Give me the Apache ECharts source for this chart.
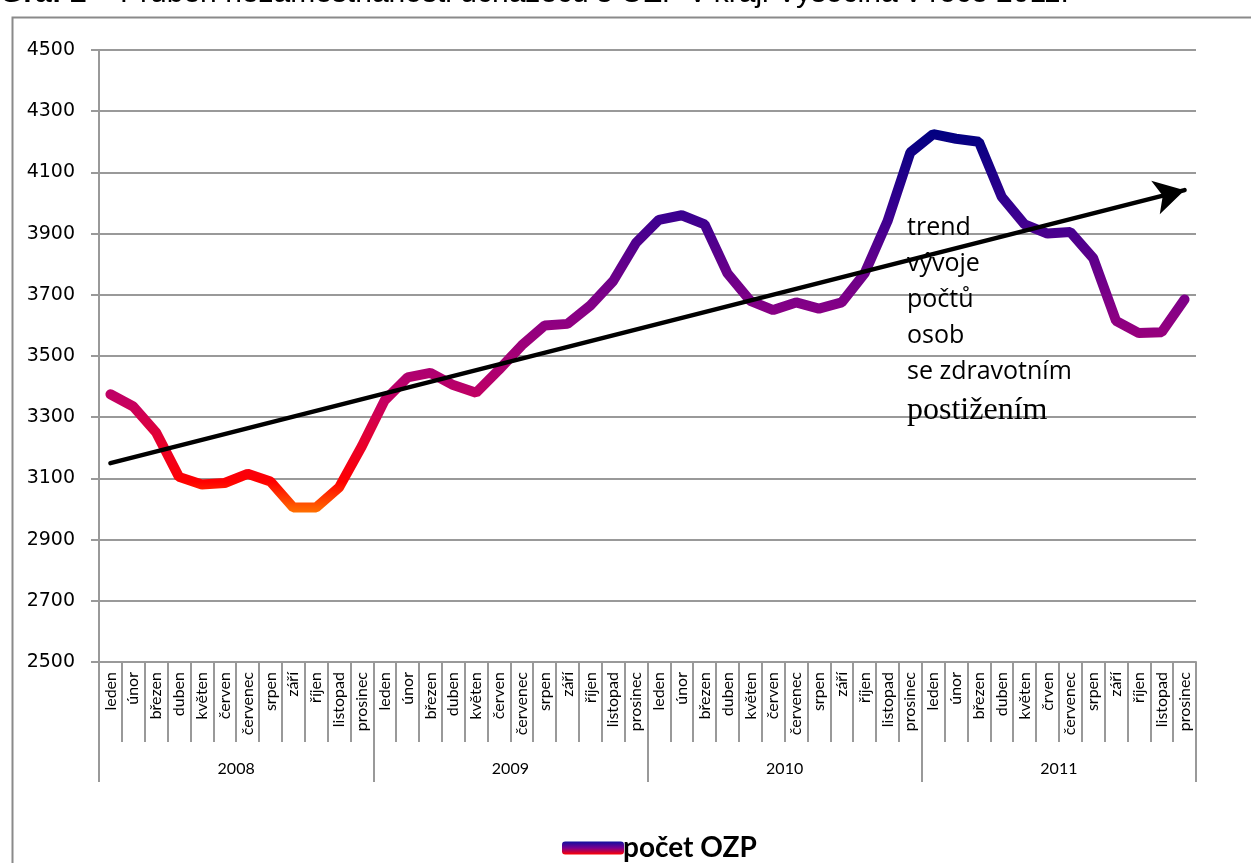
<!DOCTYPE html>
<html>
<head>
<meta charset="utf-8">
<style>html,body{margin:0;padding:0;background:#fff;}#c{width:1251px;height:863px;}</style>
<script src="https://cdn.jsdelivr.net/npm/echarts@6/dist/echarts.min.js"></script>
</head>
<body>
<div id="c"></div>
<script>
const months = ['leden','únor','březen','duben','květen','červen','červenec','srpen','září','říjen','listopad','prosinec'];
const months2011 = ['leden','únor','březen','duben','květen','črven','červenec','srpen','září','říjen','listopad','prosinec'];
const years = ['2008','2009','2010','2011'];
const yTicks = {min: 2500, max: 4500, step: 200};
const values2008 = [3375, 3335, 3250, 3105, 3080, 3085, 3115, 3090, 3005, 3005, 3070, 3205];
const values2009 = [3355, 3430, 3445, 3405, 3380, 3455, 3535, 3600, 3605, 3665, 3745, 3870];
const values2010 = [3945, 3960, 3930, 3770, 3680, 3650, 3675, 3655, 3675, 3770, 3940, 4165];
const values2011 = [4225, 4210, 4200, 4020, 3930, 3900, 3905, 3820, 3615, 3575, 3578, 3685];
const trendStart = [0, 3150];
const trendEnd = [47, 4042];
const seriesName = 'počet OZP';
const trendText = ['trend', 'vývoje', 'počtů', 'osob', 'se zdravotním'];
const trendTextLast = 'postižením';
const titleBold = 'Graf 2';
const titleRest = ' – Průběh nezaměstnanosti uchazečů s OZP v kraji Vysočina v roce 2011.';

const categories = [].concat(months, months, months, months2011);
const values = [].concat(values2008, values2009, values2010, values2011);

const lineGrad = new echarts.graphic.LinearGradient(0, 0, 0, 1, [
  {offset: 0, color: '#000080'},
  {offset: 0.22, color: '#3a0090'},
  {offset: 0.47, color: '#860086'},
  {offset: 0.64, color: '#b0006f'},
  {offset: 0.72, color: '#c8005e'},
  {offset: 0.82, color: '#e8002c'},
  {offset: 0.92, color: '#ff0000'},
  {offset: 1, color: '#ff7000'}
]);
const legendGrad = new echarts.graphic.LinearGradient(0, 0, 0, 1, [
  {offset: 0, color: '#1010a0'},
  {offset: 0.5, color: '#7a0090'},
  {offset: 1, color: '#ff0000'}
]);

const chart = echarts.init(document.getElementById('c'), null, {renderer: 'canvas'});
const gridColor = '#999999';
chart.setOption({
  backgroundColor: '#ffffff',
  animation: false,
  grid: {left: 99, right: 55, top: 50, bottom: 201, containLabel: false},
  legend: {
    left: 557, top: 829,
    itemWidth: 62, itemHeight: 13, itemGap: 10,
    icon: 'roundRect',
    textStyle: {fontFamily: 'Lato', fontWeight: 'bold', fontSize: 28, color: '#000', padding: [0,0,0,-6]},
    data: [{name: seriesName, itemStyle: {color: legendGrad}}]
  },
  xAxis: [{
    type: 'category',
    data: categories,
    boundaryGap: true,
    position: 'bottom',
    axisLine: {show: true, lineStyle: {color: gridColor, width: 2}},
    axisTick: {show: true, interval: 0, length: 80, lineStyle: {color: gridColor, width: 2}},
    axisLabel: {interval: 0, rotate: 90, margin: 10, fontFamily: 'Lato', fontSize: 16, color: '#000'},
    splitLine: {show: false}
  }, {
    type: 'category',
    data: years,
    boundaryGap: true,
    position: 'bottom',
    axisLine: {show: false},
    axisTick: {show: true, interval: 0, length: 120, lineStyle: {color: gridColor, width: 2}},
    axisLabel: {interval: 0, margin: 99, fontFamily: 'Lato', fontSize: 16, color: '#000'},
    splitLine: {show: false}
  }],
  yAxis: {
    type: 'value',
    min: yTicks.min, max: yTicks.max, interval: yTicks.step,
    axisLine: {show: true, lineStyle: {color: gridColor, width: 2}},
    axisTick: {show: true, length: 8, lineStyle: {color: gridColor, width: 2}},
    axisLabel: {fontFamily: 'DejaVu Sans', fontSize: 19, color: '#000', margin: 24, formatter: v => String(v)},
    splitLine: {show: true, lineStyle: {color: gridColor, width: 2}}
  },
  series: [{
    name: seriesName,
    type: 'line',
    data: values,
    xAxisIndex: 0,
    symbol: 'none',
    smooth: false,
    lineStyle: {width: 10, color: lineGrad, cap: 'round', join: 'bevel'},
    itemStyle: {color: legendGrad},
    z: 3,
    markLine: {
      silent: true,
      symbol: ['none', 'arrow'],
      symbolSize: [26, 30],
      label: {show: false},
      lineStyle: {color: '#000', width: 4.5, type: 'solid', cap: 'round'},
      data: [[{coord: trendStart}, {coord: trendEnd}]],
      z: 5
    }
  }],
  graphic: [
    {type: 'rect', left: 10, top: 15, shape: {x: 0, y: 0, width: 1300, height: 900}, style: {fill: 'none', stroke: '#8a8a8a', lineWidth: 2}, z: 0, silent: true},
    {type: 'text', left: 0, top: -21, z: 10, style: {
      text: '{b|' + titleBold + '}{r|' + titleRest + '}',
      rich: {b: {fontFamily: 'Liberation Sans', fontWeight: 'bold', fontSize: 30, fill: '#000'}, r: {fontFamily: 'Liberation Sans', fontSize: 30, fill: '#000'}}
    }},
    {type: 'text', left: 907, top: 215, z: 10, style: {
      text: trendText.map(t => '{s|' + t + '}').join('\n') + '\n{t|' + trendTextLast + '}',
      rich: {s: {fontFamily: 'Open Sans', fontSize: 25, lineHeight: 36, fill: '#000'}, t: {fontFamily: 'Liberation Serif', fontSize: 32, lineHeight: 42, fill: '#000'}}
    }}
  ]
});
</script>
</body>
</html>
